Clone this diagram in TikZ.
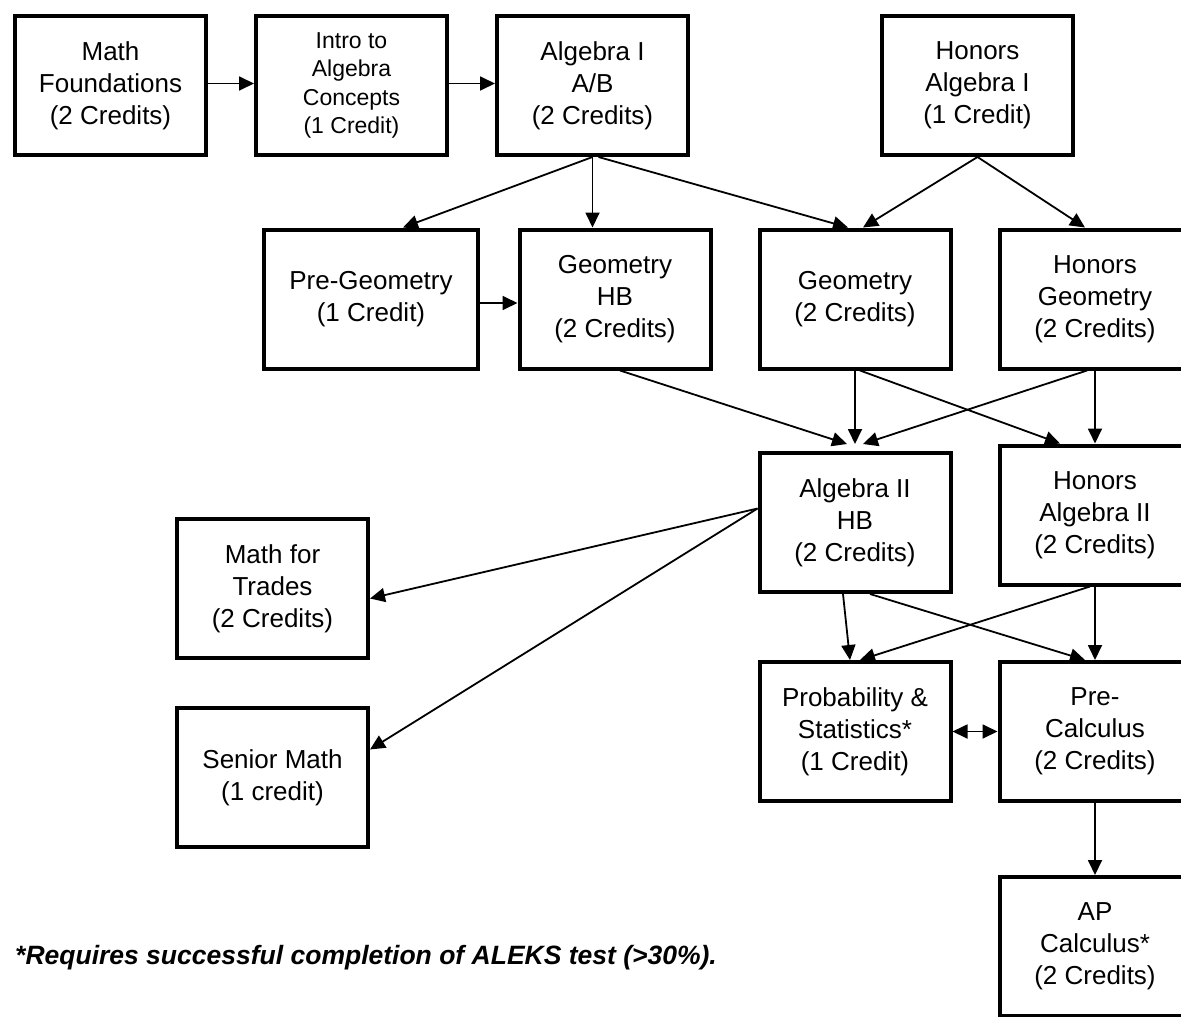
\documentclass[tikz,border=0pt]{standalone}
\usepackage{fontspec}
\setmainfont{Liberation Sans}
\usetikzlibrary{arrows.meta, positioning}
\tikzset{
	node distance = 46pt,
	>={Triangle[length=15pt, width=14pt]},
	course/.style={
		draw,
		rectangle,
		line width=4pt,
		minimum width=191pt,
		minimum height=139pt,
		inner sep=2pt,
		align=center,
		font=\fontsize{26}{32}\selectfont
	},
	prereq/.style={
		->,
		line width=1.8pt
	}
}

\begin{document}
\begin{tikzpicture}[x=1pt, y=-1pt]
\useasboundingbox (0,0) rectangle (1181,1017);
% ---
% algebra I track
% ---
\node[course] at (110.5,85.5) (mf) {Math\\Foundations\\(2 Credits)};
\node[course, right=of mf, font=\fontsize{23}{28.5}\selectfont] (intro) {Intro to\\Algebra\\Concepts\\(1 Credit)};
\node[course, right=of intro] (alg1) {Algebra I\\A/B\\(2 Credits)};
\node[course, right=190pt of alg1] (halg1) {Honors\\Algebra I\\(1 Credit)};

% ---
% geometry
% ---
\node[course, minimum width=214pt] at (371,299) (pregeo) {Pre-Geometry\\(1 Credit)};
\node[course] at (615,299) (geohb) {Geometry\\HB\\(2 Credits)};
\node[course] at (855,299) (geo) {Geometry\\(2 Credits)};
\node[course] at (1095,299) (hgeo) {Honors\\Geometry\\(2 Credits)};

% ---
% algebra II and after
% ---
\node[course] at (855,522.5) (a2hb) {Algebra II\\HB\\(2 Credits)};
\node[course] at (1095,515) (ha2) {Honors\\Algebra II\\(2 Credits)};
\node[course] at (272.5,588.5) (trades) {Math for\\Trades\\(2 Credits)};
\node[course, below=of trades] (senior) {Senior Math\\(1 credit)};
\node[course] at (855,731.5) (prob) {Probability \&\\Statistics*\\(1 Credit)};
\node[course] at (1095,731.5) (precalc) {Pre-\\Calculus\\(2 Credits)};
\node[course, below=72pt of precalc] (ap) {AP\\Calculus*\\(2 Credits)};

\node[anchor=west, inner sep=0pt, font=\bfseries\itshape\fontsize{26.5}{32}\selectfont] at (15,958) (note) {*Requires successful completion of ALEKS test (>30\%).};

\draw[prereq] ([yshift=2pt]mf.east) to ([yshift=2pt]intro.west);
\draw[prereq] ([yshift=2pt]intro.east) to ([yshift=2pt]alg1.west);
\draw[prereq] (alg1.south) to ([xshift=32pt]pregeo.north);
\draw[prereq] (alg1.south) to (alg1.south |- geohb.north);
\draw[prereq] ([xshift=6pt]alg1.south) to ([xshift=-7pt]geo.north);
\draw[prereq] (halg1.south) to ([xshift=8pt]geo.north);
\draw[prereq] (halg1.south) to ([xshift=-10pt]hgeo.north);
\draw[prereq] ([yshift=-4pt]pregeo.east) to ([yshift=-4pt]geohb.west);

\draw[prereq] ([xshift=5pt]geohb.south) to ([xshift=-8pt, yshift=7pt]a2hb.north);
\draw[prereq] (geo.south) to ([yshift=7pt]a2hb.north);
\draw[prereq] ([xshift=-8pt]hgeo.south) to ([xshift=8pt, yshift=7pt]a2hb.north);
\draw[prereq] ([xshift=5pt]geo.south) to ([xshift=-35pt]ha2.north);
\draw[prereq] (hgeo.south) to (ha2.north);

\draw[prereq] ([yshift=14pt]a2hb.west) to ([yshift=-10pt]trades.east);
\draw[prereq] ([yshift=14pt]a2hb.west) to ([yshift=28pt]senior.east);
\draw[prereq] ([xshift=-12pt]a2hb.south) to ([xshift=-5pt]prob.north);
\draw[prereq] ([xshift=15pt]a2hb.south) to ([xshift=-10pt]precalc.north);
\draw[prereq] ([xshift=-5pt]ha2.south) to ([xshift=5pt]prob.north);
\draw[prereq] (ha2.south) to (precalc.north);
\draw[prereq, <->] (prob) to (precalc);
\draw[prereq] (precalc) to (ap);
\end{tikzpicture}
\end{document}
